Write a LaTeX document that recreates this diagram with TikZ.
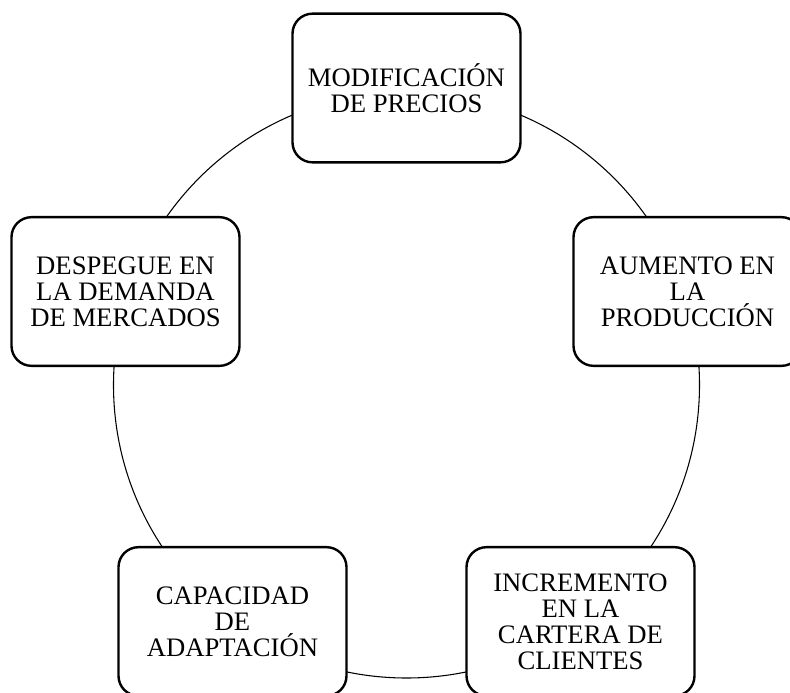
\documentclass[tikz,border=0pt]{standalone}
\usepackage{fontspec}
\setmainfont{Liberation Serif}
\begin{document}
\begin{tikzpicture}[x=0.75pt,y=-0.75pt,
  box/.style={draw, line width=1.8pt, rounded corners=15pt, fill=white,
    minimum width=171pt, minimum height=111.5pt, align=center,
    font=\fontsize{20}{19.5}\selectfont, inner sep=0pt},
  ring/.style={draw, line width=0.8pt}]
\clip (0,0) rectangle (790,693);
\useasboundingbox (0,0) rectangle (790,693);
\coordinate (ctr) at (406.5,385);
\draw[ring] (ctr) circle[radius=293];
\node[box] (top) at (406.5,88) {MODIFICACIÓN\\DE PRECIOS};
\node[box] (right) at (687.5,291.5) {AUMENTO EN\\LA\\PRODUCCIÓN};
\node[box] (bright) at (580.5,621.5) {INCREMENTO\\EN LA\\CARTERA DE\\CLIENTES};
\node[box] (bleft) at (232.5,621.5) {CAPACIDAD\\DE\\ADAPTACIÓN};
\node[box] (left) at (125.5,291.5) {DESPEGUE EN\\LA DEMANDA\\DE MERCADOS};
\end{tikzpicture}
\end{document}
